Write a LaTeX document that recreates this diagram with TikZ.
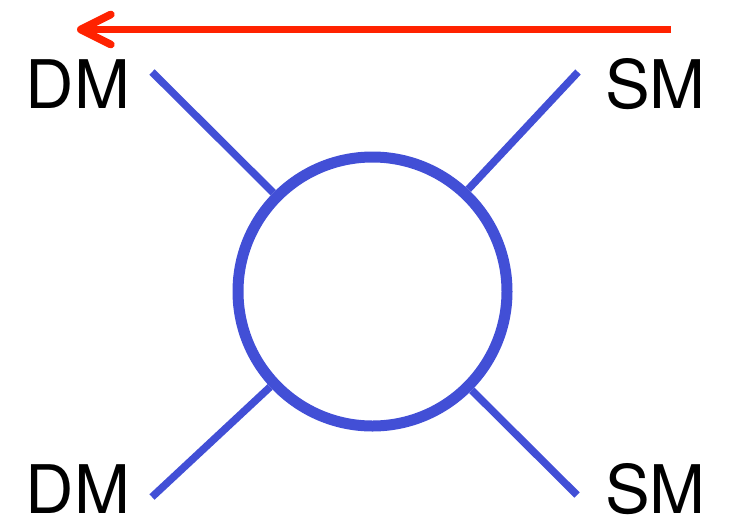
\documentclass[tikz,border=0pt]{standalone}
\usepackage{fontspec}
\setmainfont{TeX Gyre Heros}
\usetikzlibrary{arrows.meta}
\definecolor{legblue}{RGB}{66,79,214}
\definecolor{flowred}{RGB}{255,34,0}
\begin{document}
\begin{tikzpicture}[x=1pt, y=-1pt,
    label/.style={inner sep=0pt, font=\fontsize{67}{67}\selectfont},
    leg/.style={legblue, line width=7.5pt},
    blob/.style={circle, draw=legblue, line width=11pt, minimum size=269pt, inner sep=0pt}]
    \useasboundingbox (0,0) rectangle (731,517);

    \node[blob] (vertex) at (372.5,291.5) {};

    \coordinate (dmtop) at (152,72);
    \coordinate (smtop) at (578,72);
    \coordinate (dmbot) at (152,497);
    \coordinate (smbot) at (577,495);
    \draw[leg] (dmtop) -- (vertex);
    \draw[leg] (smtop) -- (vertex);
    \draw[leg] (dmbot) -- (vertex);
    \draw[leg] (smbot) -- (vertex);

    \node[label] (dm1) at (78,84) {DM};
    \node[label] (sm1) at (655.5,84) {SM};
    \node[label] (dm2) at (78,489.5) {DM};
    \node[label] (sm2) at (655.5,489.5) {SM};

    % direction of time
    \coordinate (arrowstart) at (671,29.5);
    \coordinate (arrowend) at (77,29.5);
    \draw[flowred, line width=7.7pt,
        -{Straight Barb[length=30pt, width=30pt, line width=7.7pt, round]}]
        (arrowstart) -- (arrowend);
\end{tikzpicture}
\end{document}
